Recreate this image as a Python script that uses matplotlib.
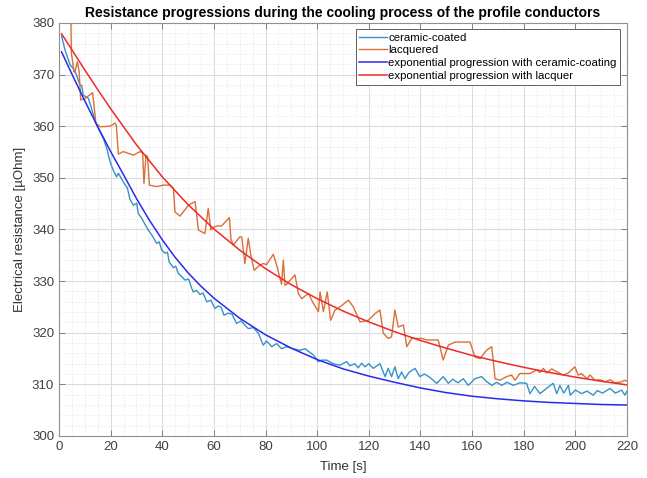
import numpy as np
import matplotlib
matplotlib.use("Agg")
import matplotlib.pyplot as plt
from matplotlib.ticker import MultipleLocator

plt.rcParams['font.family'] = ['Liberation Sans', 'DejaVu Sans']

# measured: ceramic-coated profile conductor
t_ceramic = [1, 2.3, 3, 4.3, 5.5, 6.5, 8.1, 8.8, 9.4, 11.4, 12.4, 13.7, 14.6, 15.9, 17.2,
             18.5, 19.8, 21, 22.3, 23, 24.9, 26.5, 27.5, 28.8, 30.1, 30.7, 32, 33.3, 34.6,
             36.5, 37.8, 38.8, 39.8, 41.1, 42, 42.7, 44.3, 45.2, 46.2, 47.5, 48.8, 50.2, 51.4,
             52, 53.3, 54.6, 55.8, 57.2, 58.8, 60.4, 61.8, 62.8, 63.9, 65.5, 67, 68.8, 70.5,
             73.3, 75.3, 77.2, 79.1, 80.4, 82.4, 84.3, 86.2, 88, 90.7, 93.3, 95.3, 98.5,
             100.4, 101.7, 103.7, 106.2, 108.8, 111.4, 112.7, 114.6, 115.9, 117.2, 118.5,
             120, 121.7, 124.3, 126.3, 127.5, 128.8, 130.1, 131.4, 132.7, 134, 135.5, 137.9,
             139.8, 141.5, 143.5, 146.3, 148.8, 150.8, 152.5, 154.5, 156.6, 158.5, 161.1,
             163.7, 165.5, 167.6, 169.5, 171.5, 173.5, 176, 178.5, 181.1, 182.4, 184.2,
             186.3, 188.5, 191.4, 192.8, 194, 195.5, 197.3, 198, 200, 202.4, 204.5, 206.9,
             208.5, 210.5, 213.4, 215.5, 217.9, 219.2, 220]
r_ceramic = [377.5, 374.8, 373.8, 371.9, 371.2, 370.3, 368.0, 367.9, 366.0, 365.4, 363.8,
             361.5, 360.2, 358.9, 357.6, 355.7, 353.1, 351.5, 350.2, 350.9, 349.2, 348.0,
             345.8, 344.7, 345.1, 343.1, 342.2, 341.0, 339.9, 338.5, 337.3, 337.6, 336.0,
             335.4, 335.6, 333.7, 332.6, 332.9, 331.5, 330.9, 330.2, 330.4, 328.6, 327.9,
             328.2, 327.4, 327.7, 326.0, 326.3, 324.7, 325.2, 324.9, 323.4, 323.8, 323.6,
             321.8, 322.3, 320.8, 321.0, 319.9, 317.6, 318.4, 317.3, 317.9, 316.9, 317.3,
             316.9, 316.6, 316.9, 315.7, 314.4, 314.7, 314.7, 314.0, 313.7, 314.4, 313.6,
             314.0, 313.2, 314.1, 313.4, 314.0, 313.1, 314.0, 311.5, 313.1, 311.5, 313.4,
             311.1, 312.4, 311.1, 312.3, 313.1, 311.5, 312.0, 311.4, 310.2, 311.5, 310.2,
             311.0, 310.3, 311.1, 309.8, 311.1, 311.5, 310.6, 309.8, 310.4, 309.8, 310.4,
             309.8, 310.3, 310.2, 308.2, 309.6, 308.2, 309.1, 310.2, 308.2, 309.8, 308.3,
             309.8, 307.9, 308.9, 308.2, 308.7, 307.9, 308.8, 308.3, 309.2, 308.3, 308.9,
             307.9, 308.7]

# measured: lacquered profile conductor
t_lacquer = [4.0, 4.8, 5.8, 6.2, 7.1, 7.8, 8.4, 9.9, 13.0, 14.3, 15.9, 19.8, 21.7, 22.2,
             23.0, 24.9, 28.8, 31.4, 32.4, 32.9, 33.7, 34.3, 35.0, 37.8, 40.4, 43.0, 44.3,
             44.9, 46.9, 50.1, 52.7, 54.0, 56.5, 57.8, 58.8, 60.1, 61.7, 63.0, 66.0, 66.6,
             67.5, 70.1, 70.8, 72.0, 73.3, 74.3, 75.6, 77.8, 79.1, 80.4, 83.0, 84.3, 86.2,
             86.9, 87.5, 88.2, 90.7, 91.4, 92.7, 94.0, 96.6, 98.5, 100.5, 101.1, 102.4,
             103.9, 105.2, 106.9, 108.8, 112.1, 114.0, 116.6, 119.8, 122.4, 124.3, 125.6,
             127.5, 128.8, 130.1, 131.4, 133.4, 134.7, 136.6, 140.5, 142.4, 146.9, 148.8,
             150.8, 153.4, 159.2, 161.1, 163.1, 165.6, 167.6, 168.2, 168.9, 170.8, 173.4,
             175.3, 176.6, 178.5, 182.4, 185.0, 186.3, 187.6, 189.0, 190.8, 193.0, 195.3,
             197.3, 199.8, 201.1, 202.4, 204.4, 205.7, 207.6, 209.5, 211.5, 213.5, 215.3,
             217.9, 219.2, 220.0]
r_lacquer = [400.0, 374.2, 370.5, 370.6, 372.5, 370.6, 365.1, 365.3, 366.5, 360.6, 359.9,
             360.0, 360.6, 360.2, 354.6, 355.1, 354.4, 355.1, 354.8, 348.9, 354.4, 354.1,
             348.6, 348.3, 348.6, 348.6, 348.0, 343.4, 342.6, 344.7, 345.4, 339.9, 339.2,
             344.1, 339.9, 340.5, 340.7, 340.7, 342.3, 338.1, 337.0, 338.6, 338.5, 333.4,
             338.3, 335.0, 332.1, 333.1, 333.4, 333.2, 335.2, 333.1, 329.4, 334.1, 329.2,
             329.4, 330.8, 331.2, 327.6, 326.6, 327.6, 325.7, 324.1, 327.9, 324.1, 327.9,
             322.4, 324.4, 325.0, 326.3, 325.0, 322.1, 322.4, 323.7, 324.4, 319.9, 318.9,
             319.2, 324.4, 321.1, 321.5, 317.3, 318.9, 318.9, 318.6, 318.6, 314.7, 317.6,
             318.2, 318.2, 315.3, 315.0, 316.6, 317.3, 314.4, 311.1, 310.8, 311.5, 311.8,
             310.8, 312.1, 312.1, 312.8, 312.3, 313.1, 312.2, 313.0, 312.4, 311.8, 312.2,
             313.4, 311.8, 312.1, 311.1, 311.8, 310.8, 310.9, 310.5, 310.9, 310.3, 310.5,
             310.8, 310.6]

# exponential progressions
t_fit_ceramic = [1, 5, 10, 15, 20, 25, 30, 35, 40, 45, 50, 55, 60, 70, 80, 90, 100, 110,
                 120, 130, 140, 150, 160, 170, 180, 190, 200, 210, 220]
r_fit_ceramic = [374.4, 370.1, 364.9, 359.9, 355.1, 350.6, 346.0, 341.8, 338.0, 334.6,
                 331.6, 329.0, 326.7, 322.8, 319.6, 317.0, 314.8, 313.0, 311.6, 310.4,
                 309.3, 308.4, 307.7, 307.2, 306.8, 306.5, 306.3, 306.1, 306.0]
t_fit_lacquer = [1, 5, 10, 15, 20, 30, 40, 50, 60, 70, 80, 90, 100, 110, 120, 130, 140,
                 150, 160, 170, 180, 190, 200, 210, 220]
r_fit_lacquer = [377.9, 374.8, 370.9, 367.1, 363.4, 356.4, 350.2, 344.8, 340.1, 336.0,
                 332.4, 329.3, 326.6, 324.2, 322.1, 320.2, 318.5, 317.0, 315.6, 314.4,
                 313.3, 312.3, 311.4, 310.6, 309.9]

fig = plt.figure(figsize=(6.47, 4.78), dpi=100)
ax = fig.add_axes([0.0912, 0.0879, 0.8779, 0.8640])

ax.plot(t_ceramic, r_ceramic, color='#3592c8', lw=1.0, label='ceramic-coated')
ax.plot(t_lacquer, r_lacquer, color='#dc6e37', lw=1.0, label='lacquered')
ax.plot(t_fit_ceramic, r_fit_ceramic, color='#2a2aee', lw=1.1,
        label='exponential progression with ceramic-coating')
ax.plot(t_fit_lacquer, r_fit_lacquer, color='#ee2a2a', lw=1.1,
        label='exponential progression with lacquer')

ax.set_xlim(0, 220)
ax.set_ylim(300, 380)
ax.xaxis.set_major_locator(MultipleLocator(20))
ax.xaxis.set_minor_locator(MultipleLocator(5))
ax.yaxis.set_major_locator(MultipleLocator(10))
ax.yaxis.set_minor_locator(MultipleLocator(2))
ax.grid(True, which='major', color='#dcdcdc', lw=0.8)
ax.grid(True, which='minor', color='#e2e2e2', lw=0.6, ls=':')
ax.set_axisbelow(True)
ax.tick_params(which='major', direction='in', top=True, right=True, length=4,
               color='#808080', labelsize=9.5, labelcolor='#404040', width=0.7)
ax.tick_params(which='minor', length=0)
for s in ax.spines.values():
    s.set_color('#909090')
    s.set_linewidth(0.8)

ax.set_title('Resistance progressions during the cooling process of the profile conductors',
             fontsize=10, fontweight='bold', pad=4)
ax.set_xlabel('Time [s]', fontsize=9.5, color='#303030', labelpad=6)
ax.set_ylabel('Electrical resistance [µOhm]', fontsize=9.5, color='#303030', labelpad=4)

leg = ax.legend(loc='upper right', bbox_to_anchor=(0.988, 0.985), fontsize=8.2,
                handlelength=2.4, handletextpad=0.15, labelspacing=0.25,
                borderpad=0.3, fancybox=False, framealpha=1, edgecolor='#606060',
                borderaxespad=0)
leg.get_frame().set_linewidth(0.7)

fig.savefig('out.png', dpi=100)
